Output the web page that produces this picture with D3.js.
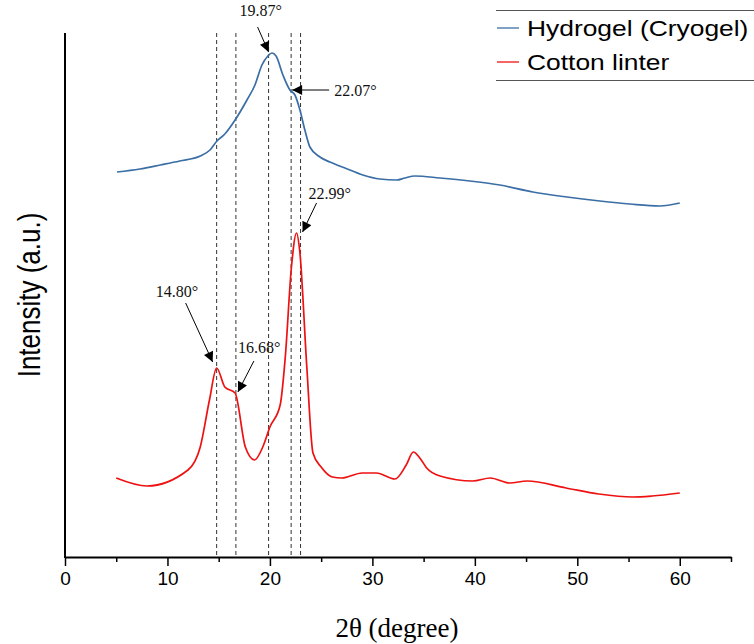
<!DOCTYPE html>
<html>
<head>
<meta charset="utf-8">
<script src="https://cdn.jsdelivr.net/npm/d3@7"></script>
<style>
  body { margin: 0; background: #fff; }
  svg { display: block; }
  .axis path, .axis line { stroke: #000; }
  .axis text { font-family: Arial, "Liberation Sans", sans-serif; fill: #000; }
</style>
</head>
<body>
<div id="chart"></div>
<script>
// 2theta (degree) and intensity (a.u.)
const hydrogelAngle = [5.07, 7.3, 9.3, 11.2, 13.2, 14.15, 14.83, 15.6, 16.6, 17.76, 18.54, 19.22, 19.8, 20.2, 20.6, 21.27, 21.95, 22.44, 22.93, 23.41, 23.9, 24.88, 25.85, 27.32, 29.07, 30.73, 32.39, 33.17, 34.15, 36.59, 39.51, 42.44, 45.66, 48.98, 52.2, 55.12, 58.05, 60.0];
const hydrogelInt = [385, 388, 392, 396, 401, 407, 416, 423, 437, 457, 472, 492, 501, 504, 501, 482, 467, 462, 447, 427, 410, 400, 395, 389, 382, 378, 377, 379, 381, 379, 376, 372, 365, 360, 356, 353, 351, 354];

const cottonAngle = [5.0, 8.0, 12.0, 13.2, 14.1, 14.8, 15.6, 16.6, 17.6, 18.5, 19.3, 20.0, 21.0, 21.5, 22.1, 22.6, 22.9, 23.6, 24.2, 25.0, 26.1, 27.0, 29.0, 30.4, 32.2, 33.3, 34.0, 34.7, 35.3, 36.6, 39.8, 41.5, 43.4, 45.1, 48.9, 52.1, 55.4, 57.3, 60.0];
const cottonInt = [79, 71, 87, 110, 157, 189, 170, 164, 110, 97, 110, 130, 152, 200, 290, 324, 307, 190, 104, 90, 80, 79, 84, 84, 78, 92, 105, 98, 89, 81, 76, 79, 74, 76, 69, 63, 60, 61, 64];

const seriesNames = ["Hydrogel (Cryogel)", "Cotton linter"];
const seriesColors = ["#3a6ea5", "#ee1111"];

// marked peaks
const peakAngles = [19.87, 22.07, 14.80, 16.68, 22.99];
const peakLabels = ["19.87°", "22.07°", "14.80°", "16.68°", "22.99°"];
const peakTipInt = [505, 467, 195, 165, 325];

const xTicks = [0, 10, 20, 30, 40, 50, 60];
const xMinorTicks = [5, 15, 25, 35, 45, 55, 65];

// arrow layout relative to tip: [tipDx, tailDx, tailDy, textDx, textDy]
const arrowLayout = [
  [0, -11, -25, -29, -36],
  [1, 37, 0, 42, 6],
  [-4, -27, -59, -57, -65],
  [2, 16, -31, 0, -39],
  [2, 14, -29, 6, -33]
];

const W = 754, H = 644;
const svg = d3.select("#chart").append("svg").attr("width", W).attr("height", H);

const x = d3.scaleLinear().domain([0, 65]).range([65, 731]);
const y = d3.scaleLinear().domain([0, 524]).range([557, 33]);

// dashed guides
svg.append("g").selectAll("line").data(peakAngles).join("line")
  .attr("x1", d => x(d)).attr("x2", d => x(d))
  .attr("y1", y(524)).attr("y2", y(0))
  .attr("stroke", "#333").attr("stroke-width", 1)
  .attr("stroke-dasharray", "4,3");

// curves
const line = d3.line().x(d => x(d[0])).y(d => y(d[1])).curve(d3.curveMonotoneX);
const series = [
  d3.zip(hydrogelAngle, hydrogelInt),
  d3.zip(cottonAngle, cottonInt)
];
svg.append("g").selectAll("path").data(series).join("path")
  .attr("d", line)
  .attr("fill", "none")
  .attr("stroke", (d, i) => seriesColors[i])
  .attr("stroke-width", 1.7);

// axes
const xAxis = svg.append("g").attr("class", "axis")
  .attr("transform", "translate(0," + y(0) + ")")
  .call(d3.axisBottom(x).tickValues(xTicks).tickSize(9).tickSizeOuter(0).tickPadding(6));
xAxis.select(".domain").attr("stroke-width", 2);
xAxis.selectAll(".tick line").attr("stroke-width", 1.5);
xAxis.selectAll("text").style("font-size", "19px");

const xMinor = svg.append("g").attr("class", "axis")
  .attr("transform", "translate(0," + y(0) + ")")
  .call(d3.axisBottom(x).tickValues(xMinorTicks).tickSize(5).tickFormat(""));
xMinor.select(".domain").remove();
xMinor.selectAll(".tick line").attr("stroke-width", 1.5);

svg.append("line")
  .attr("x1", x(0)).attr("x2", x(0))
  .attr("y1", y(524)).attr("y2", y(0) + 1)
  .attr("stroke", "#000").attr("stroke-width", 2);

// axis titles
svg.append("text")
  .attr("x", 397).attr("y", 637)
  .attr("text-anchor", "middle")
  .style("font-family", "'Liberation Serif', 'Times New Roman', serif")
  .style("font-size", "27px")
  .text("2θ (degree)");

svg.append("text")
  .attr("transform", "translate(40,295) rotate(-90) scale(1,1.2)")
  .attr("text-anchor", "middle")
  .style("font-family", "Arial, 'Liberation Sans', sans-serif")
  .style("font-size", "26px")
  .text("Intensity (a.u.)");

// peak arrows
const defs = svg.append("defs");
defs.append("marker")
  .attr("id", "head").attr("viewBox", "0 0 10 10")
  .attr("refX", 10).attr("refY", 5)
  .attr("markerWidth", 12).attr("markerHeight", 10)
  .attr("markerUnits", "userSpaceOnUse")
  .attr("orient", "auto")
  .append("path").attr("d", "M0,0 L10,5 L0,10 Z").attr("fill", "#000");

const ann = svg.append("g");
peakAngles.forEach((a, i) => {
  const L = arrowLayout[i];
  const tx = x(a) + L[0], ty = y(peakTipInt[i]);
  ann.append("line")
    .attr("x1", tx + L[1]).attr("y1", ty + L[2])
    .attr("x2", tx).attr("y2", ty)
    .attr("stroke", "#000").attr("stroke-width", 1)
    .attr("marker-end", "url(#head)");
  ann.append("text")
    .attr("x", tx + L[3]).attr("y", ty + L[4])
    .style("font-family", "'Liberation Serif', 'Times New Roman', serif")
    .style("font-size", "16px")
    .attr("fill", "#111")
    .text(peakLabels[i]);
});

// legend
const lg = svg.append("g");
lg.append("line").attr("x1", 496).attr("x2", W).attr("y1", 10.5).attr("y2", 10.5)
  .attr("stroke", "#555").attr("stroke-width", 1);
lg.append("line").attr("x1", 496).attr("x2", W).attr("y1", 80.5).attr("y2", 80.5)
  .attr("stroke", "#555").attr("stroke-width", 1);
seriesNames.forEach((n, i) => {
  const ly = 28 + i * 34;
  lg.append("line").attr("x1", 497).attr("x2", 519).attr("y1", ly).attr("y2", ly)
    .attr("stroke", seriesColors[i]).attr("stroke-width", 1.3);
  lg.append("text")
    .attr("transform", "translate(527," + (ly + 8) + ") scale(1.2,1)")
    .style("font-family", "Arial, 'Liberation Sans', sans-serif")
    .style("font-size", "22px")
    .text(n);
});
</script>
</body>
</html>
